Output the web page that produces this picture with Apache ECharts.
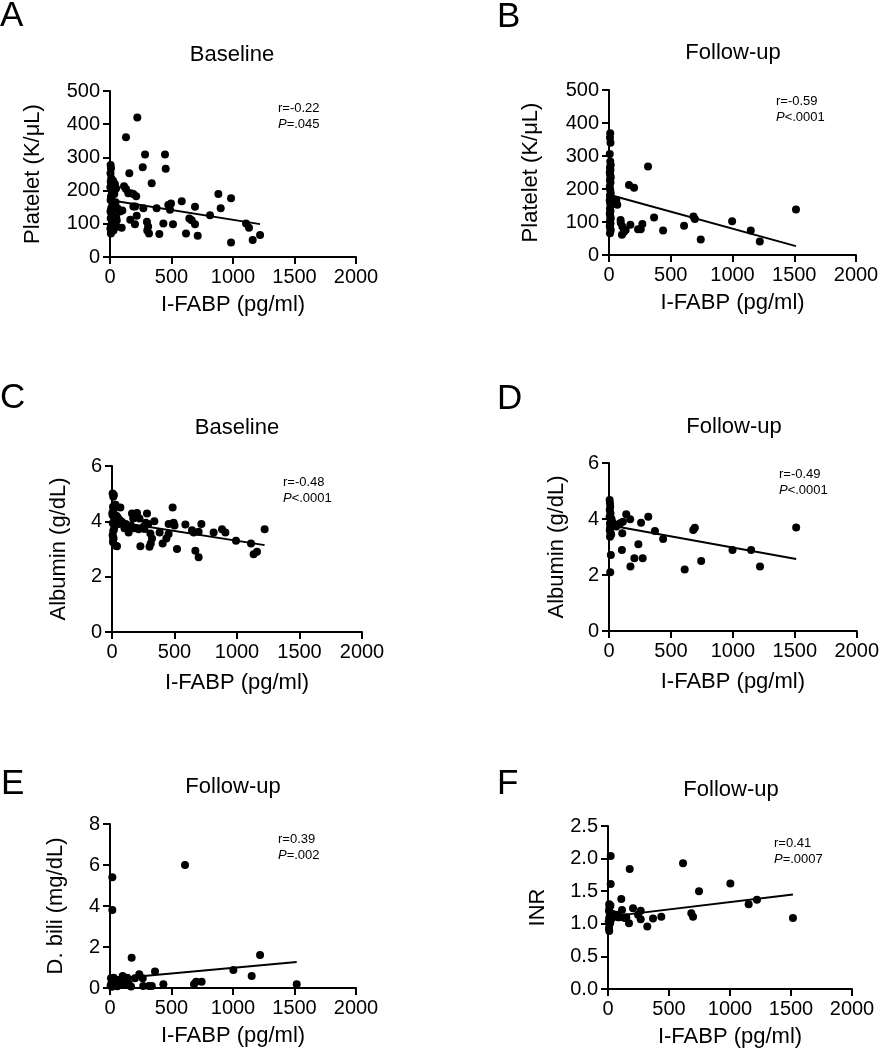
<!DOCTYPE html>
<html>
<head>
<meta charset="utf-8">
<script src="https://cdn.jsdelivr.net/npm/echarts@6/dist/echarts.min.js"></script>
<style>
html,body{margin:0;padding:0;background:#fff;}
#c{width:882px;height:1050px;}
</style>
</head>
<body>
<div id="c"></div>
<script>
// ---------- DATA ----------
const xTicks = [0, 500, 1000, 1500, 2000];
const xName = 'I-FABP (pg/ml)';

// A: Baseline platelet
const plateletBaseline = [
 [5,277],[8,267],[4,252],[10,237],[6,227],[12,217],[3,210],[15,197],[8,182],[5,172],[20,157],[10,147],[4,137],[14,127],[6,117],[18,107],[9,96],[3,86],[12,76],[7,71],
 [30,212],[45,205],[25,230],[35,190],[40,145],[50,120],[55,110],[60,147],[70,140],[81,137],[54,91],[22,165],[35,100],[28,80],[45,165],[49,207],[40,220],
 [222,420],[130,361],[285,309],[447,309],[266,270],[453,266],[157,252],[339,222],[114,213],[130,205],[149,192],[170,192],[190,190],[213,183],
 [583,168],[881,190],[984,177],[496,161],[474,157],[488,142],[379,147],[271,147],[190,152],[205,152],[691,151],[900,147],[813,126],[645,116],[664,111],
 [691,99],[1106,101],[1130,88],[217,124],[203,99],[300,106],[310,92],[303,80],[317,71],[434,101],[512,99],[401,69],[618,71],[713,64],[984,44],[1160,51],[1220,66],
 [100,140],[95,88],[165,112]
];
const fitPlateletBaseline = [[5,171],[1220,99]];
const yTicksA = [0,100,200,300,400,500];

// B: Follow-up platelet
const plateletFollow = [
 [10,369],[8,355],[12,340],[6,306],[10,283],[14,273],[8,265],[12,258],[6,250],[10,242],[14,235],[8,227],[12,220],[6,207],[10,197],[14,187],[8,180],[12,172],[6,165],[10,157],[14,150],[8,141],[12,133],[6,126],[10,118],[14,111],[8,104],[12,96],[6,88],[10,81],[14,74],[8,66],
 [59,167],[67,152],[45,160],[94,106],[105,61],[108,86],[135,76],[95,98],[120,70],[173,92],[162,212],[203,204],[316,268],[365,114],[438,74],[608,89],
 [684,117],[695,109],[743,47],[997,102],[1148,74],[1221,41],[1514,138],[235,78],[257,78],[270,94]
];
const fitPlateletFollow = [[10,182],[1514,27]];
const yTicksB = [0,100,200,300,400,500];

// C: Baseline albumin
const albuminBaseline = [
 [5,5.01],[10,4.89],[15,4.95],[8,4.53],[12,4.41],[4,4.23],[18,4.1],[25,4.05],[6,3.93],[20,3.81],[10,3.65],[5,3.5],[10,3.33],[8,3.24],[30,3.12],[40,3.1],[3,4.3],[15,3.7],[22,3.9],[35,4.2],[45,4.15],[50,4.0],[60,4.05],[67,4.5],[55,3.9],[70,4.0],[80,3.98],[28,4.6],[12,3.4],
 [485,4.5],[160,4.28],[200,4.3],[280,4.28],[339,4.0],[587,3.89],[715,3.9],[453,3.9],[493,3.95],[640,3.68],[653,3.6],[693,3.62],[813,3.6],[880,3.71],[907,3.6],
 [992,3.3],[1112,3.2],[1133,2.81],[1160,2.9],[1221,3.71],[667,2.94],[693,2.7],[520,3.0],[405,3.2],[435,3.38],[453,3.54],[381,3.6],[307,3.56],[320,3.38],[310,3.2],[300,3.08],
 [227,3.1],[133,3.6],[125,3.8],[150,3.85],[213,3.71],[253,3.8],[110,3.9],[170,4.1],[220,4.1],[270,3.95],[290,3.9],[500,3.85],[100,3.75],[180,3.75],[190,4.25],[260,3.72]
];
const fitAlbuminBaseline = [[5,4.0],[1221,3.14]];
const yTicksC = [0,2,4,6];

// D: Follow-up albumin
const albuminFollow = [
 [5,4.68],[8,4.56],[10,4.44],[6,4.32],[12,4.2],[5,4.08],[15,3.96],[8,3.85],[10,3.73],[6,3.61],[12,3.5],[8,3.37],[15,2.71],[10,2.1],[20,4.0],[25,3.9],[18,3.45],
 [59,3.73],[72,3.8],[90,3.85],[112,3.9],[107,3.49],[139,4.17],[171,3.99],[104,2.89],[173,2.3],[205,2.6],[237,3.1],[259,3.87],[272,2.6],[317,4.08],[371,3.57],
 [437,3.29],[611,2.2],[680,3.61],[693,3.69],[744,2.5],[997,2.89],[1147,2.89],[1219,2.3],[1511,3.7],[45,3.75]
];
const fitAlbuminFollow = [[5,3.78],[1511,2.57]];
const yTicksD = [0,2,4,6];

// E: Follow-up direct bilirubin
const dbiliFollow = [
 [19,5.4],[19,3.8],[8,0.47],[12,0.23],[15,0.06],[25,0.35],[5,0.12],[30,0.5],[20,0.3],[40,0.15],
 [68,0.39],[103,0.59],[87,0.15],[122,0.15],[110,0.3],[171,0.07],[176,1.48],[203,0.47],[238,0.67],[266,0.47],[270,0.1],[317,0.1],[340,0.1],[366,0.8],[434,0.18],
 [610,6.0],[683,0.18],[700,0.3],[745,0.3],[1003,0.88],[1152,0.59],[1220,1.61],[1518,0.18],[140,0.5],[60,0.08],[150,0.25]
];
const fitDbiliFollow = [[10,0.44],[1518,1.27]];
const yTicksE = [0,2,4,6,8];

// F: Follow-up INR
const inrFollow = [
 [22,2.04],[22,1.61],[10,1.3],[12,1.25],[8,1.2],[15,1.15],[10,1.09],[6,1.04],[12,0.99],[8,0.93],[10,0.89],[20,1.28],[25,1.12],[30,1.08],[18,1.02],[35,1.1],[40,1.15],
 [68,1.14],[82,1.1],[109,1.38],[115,1.21],[137,1.09],[172,1.01],[178,1.84],[205,1.24],[246,1.14],[268,1.2],[268,1.07],[322,0.96],[369,1.08],[437,1.11],
 [615,1.93],[683,1.16],[697,1.11],[746,1.5],[1003,1.62],[1153,1.3],[1221,1.37],[1516,1.09],[95,1.1],[150,1.1]
];
const fitInrFollow = [[10,1.11],[1516,1.45]];
const yTicksF = [0,0.5,1.0,1.5,2.0,2.5];

// ---------- LAYOUT ----------
const FONT = "'Liberation Sans', Arial, Helvetica, sans-serif";
const panels = [
 {letter:'A', lx:0,   ly:16,  title:'Baseline',  tx:232, ty:55,  r:'r=-0.22', p:'=.045',  ax:278, ay:108, grid:{left:110,top:91,width:246,height:166}, pts:plateletBaseline, fit:fitPlateletBaseline, yt:yTicksA, yName:'Platelet (K/μL)', yGap:66, xGap:37, dec:0},
 {letter:'B', lx:497, ly:17,  title:'Follow-up', tx:733, ty:53,  r:'r=-0.59', p:'<.0001', ax:776, ay:101, grid:{left:609,top:90,width:247,height:165}, pts:plateletFollow, fit:fitPlateletFollow, yt:yTicksB, yName:'Platelet (K/μL)', yGap:67, xGap:37, dec:0},
 {letter:'C', lx:0,   ly:398, title:'Baseline',  tx:237, ty:428, r:'r=-0.48', p:'<.0001', ax:283, ay:482, grid:{left:112,top:466,width:250,height:166}, pts:albuminBaseline, fit:fitAlbuminBaseline, yt:yTicksC, yName:'Albumin (g/dL)', yGap:42, xGap:40, dec:0},
 {letter:'D', lx:497, ly:399, title:'Follow-up', tx:734, ty:427, r:'r=-0.49', p:'<.0001', ax:779, ay:474, grid:{left:609,top:463,width:250,height:168}, pts:albuminFollow, fit:fitAlbuminFollow, yt:yTicksD, yName:'Albumin (g/dL)', yGap:41, xGap:40, dec:0},
 {letter:'E', lx:1,   ly:784, title:'Follow-up', tx:233, ty:787, r:'r=0.39',  p:'=.002',  ax:278, ay:839, grid:{left:110,top:824,width:246,height:164}, pts:dbiliFollow, fit:fitDbiliFollow, yt:yTicksE, yName:'D. bili (mg/dL)', yGap:43, xGap:37, dec:0},
 {letter:'F', lx:497, ly:784, title:'Follow-up', tx:731, ty:790, r:'r=0.41',  p:'=.0007', ax:774, ay:843, grid:{left:608,top:826,width:244,height:163}, pts:inrFollow, fit:fitInrFollow, yt:yTicksF, yName:'INR', yGap:59, xGap:37, dec:1}
];

const axisLine = {show:true, onZero:false, lineStyle:{color:'#000', width:2}};
const axisTick = {show:true, length:7, lineStyle:{color:'#000', width:2}};

const option = {
  animation:false,
  backgroundColor:'#fff',
  grid:[], xAxis:[], yAxis:[], series:[], graphic:[]
};

panels.forEach((pn, i) => {
  option.grid.push(Object.assign({containLabel:false}, pn.grid));
  option.xAxis.push({
    gridIndex:i, type:'value',
    min:xTicks[0], max:xTicks[xTicks.length-1], interval:xTicks[1]-xTicks[0],
    axisLine, axisTick, splitLine:{show:false},
    axisLabel:{color:'#000', fontSize:20, fontFamily:FONT, margin:10, showMaxLabel:true, showMinLabel:true,
      formatter: v => String(Math.round(v))},
    name:xName, nameLocation:'middle', nameGap:pn.xGap,
    nameTextStyle:{color:'#000', fontSize:22, fontFamily:FONT}
  });
  option.yAxis.push({
    gridIndex:i, type:'value',
    min:pn.yt[0], max:pn.yt[pn.yt.length-1], interval:pn.yt[1]-pn.yt[0],
    axisLine, axisTick, splitLine:{show:false},
    axisLabel:{color:'#000', fontSize:20, fontFamily:FONT, margin:10,
      formatter: v => Number(v).toFixed(pn.dec)},
    name:pn.yName, nameLocation:'middle', nameGap:pn.yGap,
    nameTextStyle:{color:'#000', fontSize:22, fontFamily:FONT}
  });
  option.series.push({
    type:'scatter', xAxisIndex:i, yAxisIndex:i, data:pn.pts,
    symbol:'circle', symbolSize:8, itemStyle:{color:'#000', opacity:1}, silent:true
  });
  option.series.push({
    type:'line', xAxisIndex:i, yAxisIndex:i, data:pn.fit,
    showSymbol:false, symbol:'none', lineStyle:{color:'#000', width:2}, silent:true, z:3
  });
  option.graphic.push(
    {type:'text', x:pn.lx, y:pn.ly, style:{text:pn.letter, font:'35px '+FONT, fill:'#000', align:'left', verticalAlign:'middle'}},
    {type:'text', x:pn.tx, y:pn.ty, style:{text:pn.title, font:'22px '+FONT, fill:'#000', align:'center', verticalAlign:'middle'}},
    {type:'text', x:pn.ax, y:pn.ay, style:{text:pn.r, font:'13px '+FONT, fill:'#000', align:'left', verticalAlign:'middle'}},
    {type:'text', x:pn.ax, y:pn.ay+16, style:{text:'{i|P}'+pn.p, font:'13px '+FONT, fill:'#000', align:'left', verticalAlign:'middle',
      rich:{i:{fontStyle:'italic', fontSize:13, fontFamily:FONT, fill:'#000'}}}}
  );
});

const chart = echarts.init(document.getElementById('c'), null, {renderer:'canvas'});
chart.setOption(option);
</script>
</body>
</html>
